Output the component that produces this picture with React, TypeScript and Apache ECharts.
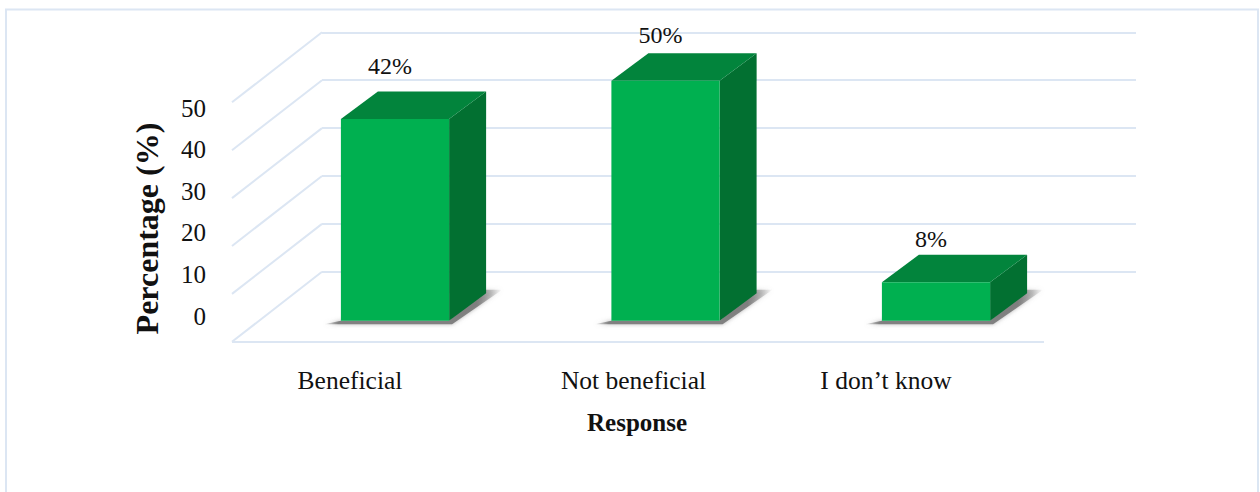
import React, { useEffect, useRef } from "react";
import * as echarts from "echarts";

const categories = ["Beneficial", "Not beneficial", "I don’t know"];
const percentages = [42, 50, 8];
const valueLabels = ["42%", "50%", "8%"];
const wallTicks = [0, 10, 20, 30, 40, 50];

const SERIF = "'Liberation Serif', 'Times New Roman', serif";
const FRONT = "#00b050";
const TOP = "#02843c";
const SIDE = "#027031";
const RULE = "#dce6f3";
const INK = "#111";

// Box extrusion and the slant of the floor and wall, in pixels.
const DEPTH_X = 37;
const DEPTH_Y = 27.5;
const WALL_X = 90;
const WALL_Y = 70;

const labelLift = [26, 18, 16];

function renderBar(params: any, api: any) {
  const i = api.value(0);
  const [cx, yTop] = api.coord([i, api.value(1)]);
  const [, yBase] = api.coord([i, 0]);
  const w = api.size([1, 0])[0] * 0.4;
  const l = cx - w / 2;
  const r = cx + w / 2;
  const poly = (points: number[][], fill: string) => ({
    type: "polygon",
    shape: { points },
    style: { fill },
  });
  return {
    type: "group",
    children: [
      // Soft floor shadow that fades out at both tips.
      {
        type: "polygon",
        shape: {
          points: [
            [l - 17, yBase + 3.5],
            [r + 3, yBase + 3.5],
            [r + DEPTH_X + 16, yBase - DEPTH_Y - 3.5],
            [r + DEPTH_X, yBase - DEPTH_Y - 3.5],
            [r, yBase],
            [l, yBase],
          ],
        },
        style: {
          fill: {
            type: "linear",
            x: 0,
            y: 0,
            x2: 1,
            y2: 0,
            colorStops: [
              { offset: 0, color: "rgba(120,120,120,0)" },
              { offset: 0.08, color: "rgba(120,120,120,0.9)" },
              { offset: 0.86, color: "rgba(120,120,120,0.9)" },
              { offset: 1, color: "rgba(120,120,120,0)" },
            ],
          },
          shadowBlur: 4,
          shadowColor: "rgba(120,120,120,0.6)",
        },
      },
      poly([[r, yBase], [r + DEPTH_X, yBase - DEPTH_Y], [r + DEPTH_X, yTop - DEPTH_Y], [r, yTop]], SIDE),
      poly([[l, yTop], [l + DEPTH_X, yTop - DEPTH_Y], [r + DEPTH_X, yTop - DEPTH_Y], [r, yTop]], TOP),
      { type: "rect", shape: { x: l, y: yTop, width: w, height: yBase - yTop }, style: { fill: FRONT } },
      {
        type: "text",
        style: {
          x: cx - 5,
          y: yTop - DEPTH_Y - labelLift[i],
          text: valueLabels[i],
          fill: INK,
          font: `24px ${SERIF}`,
          align: "center",
          verticalAlign: "middle",
        },
      },
    ],
  };
}

export default function App() {
  const ref = useRef<HTMLDivElement>(null);
  useEffect(() => {
    const chart = echarts.init(ref.current!, null, { renderer: "svg" });
    chart.setOption({
      animation: false,
      backgroundColor: "#fff",
      graphic: [
        {
          type: "rect",
          silent: true,
          z: -1,
          shape: { x: 6, y: 9.5, width: 1252, height: 500 },
          style: { fill: "#fff", stroke: RULE, lineWidth: 2 },
        },
        {
          type: "line",
          silent: true,
          z: -1,
          shape: { x1: 232, y1: 342, x2: 1044, y2: 342 },
          style: { stroke: RULE, lineWidth: 2 },
        },
      ],
      grid: [
        { left: 259.75, top: 80.7, width: 811.5, height: 240 },
        { left: 207, top: 108, width: 860, height: 208 },
        { left: 322, top: 32.3, width: 814, height: 239.5 },
      ],
      xAxis: [
        {
          gridIndex: 0,
          type: "category",
          data: [
            { value: categories[0], textStyle: { padding: [0, 90, 0, 0] } },
            { value: categories[1], textStyle: { padding: [0, 64, 0, 0] } },
            { value: categories[2], textStyle: { padding: [0, 100, 0, 0] } },
          ],
          axisLine: { show: false },
          axisTick: { show: false },
          axisLabel: {
            interval: 0,
            margin: 47,
            color: INK,
            fontFamily: SERIF,
            fontSize: 25.5,
          },
        },
        {
          gridIndex: 1,
          type: "category",
          data: [""],
          axisLine: { show: false },
          axisTick: { show: false },
          axisLabel: { show: false },
          name: "Response",
          nameLocation: "middle",
          nameGap: 94,
          nameTextStyle: { color: INK, fontFamily: SERIF, fontSize: 25, fontWeight: "bold" },
        },
        {
          gridIndex: 2,
          type: "category",
          data: [""],
          show: false,
        },
      ],
      yAxis: [
        { gridIndex: 0, type: "value", min: 0, max: 50, show: false },
        {
          gridIndex: 1,
          type: "value",
          min: 0,
          max: 50,
          interval: 10,
          axisLine: { show: false },
          axisTick: { show: false },
          splitLine: { show: false },
          axisLabel: { margin: 1, color: INK, fontFamily: SERIF, fontSize: 25 },
          name: "Percentage (%)",
          nameLocation: "middle",
          nameGap: 44,
          nameRotate: 90,
          nameTextStyle: {
            color: INK,
            fontFamily: SERIF,
            fontSize: 32,
            fontWeight: "bold",
            padding: [0, 33, 0, 0],
          },
        },
        {
          gridIndex: 2,
          type: "value",
          min: 0,
          max: 50,
          interval: 10,
          axisLine: { show: false },
          axisTick: { show: false },
          axisLabel: { show: false },
          splitLine: { show: true, lineStyle: { color: RULE, width: 2 } },
        },
      ],
      series: [
        {
          // Slanted side wall rules, one per tick, running forward from the back wall.
          type: "custom",
          xAxisIndex: 2,
          yAxisIndex: 2,
          coordinateSystem: "cartesian2d",
          renderItem: (p: any, api: any) => {
            const [, y] = api.coord([0, api.value(1)]);
            const x = p.coordSys.x;
            return {
              type: "line",
              shape: { x1: x - WALL_X, y1: y + WALL_Y, x2: x, y2: y },
              style: { stroke: RULE, lineWidth: 2 },
            };
          },
          data: wallTicks.map((t) => [0, t]),
          encode: { x: 0, y: 1 },
          silent: true,
          z: 1,
        },
        {
          type: "custom",
          xAxisIndex: 0,
          yAxisIndex: 0,
          renderItem: renderBar,
          data: percentages.map((v, i) => [i, v]),
          encode: { x: 0, y: 1 },
          silent: true,
          z: 3,
        },
      ],
    });
    return () => chart.dispose();
  }, []);
  return (
    <div
      ref={ref}
      style={{ position: "absolute", left: 0, top: 0, width: 1260, height: 492 }}
    />
  );
}
